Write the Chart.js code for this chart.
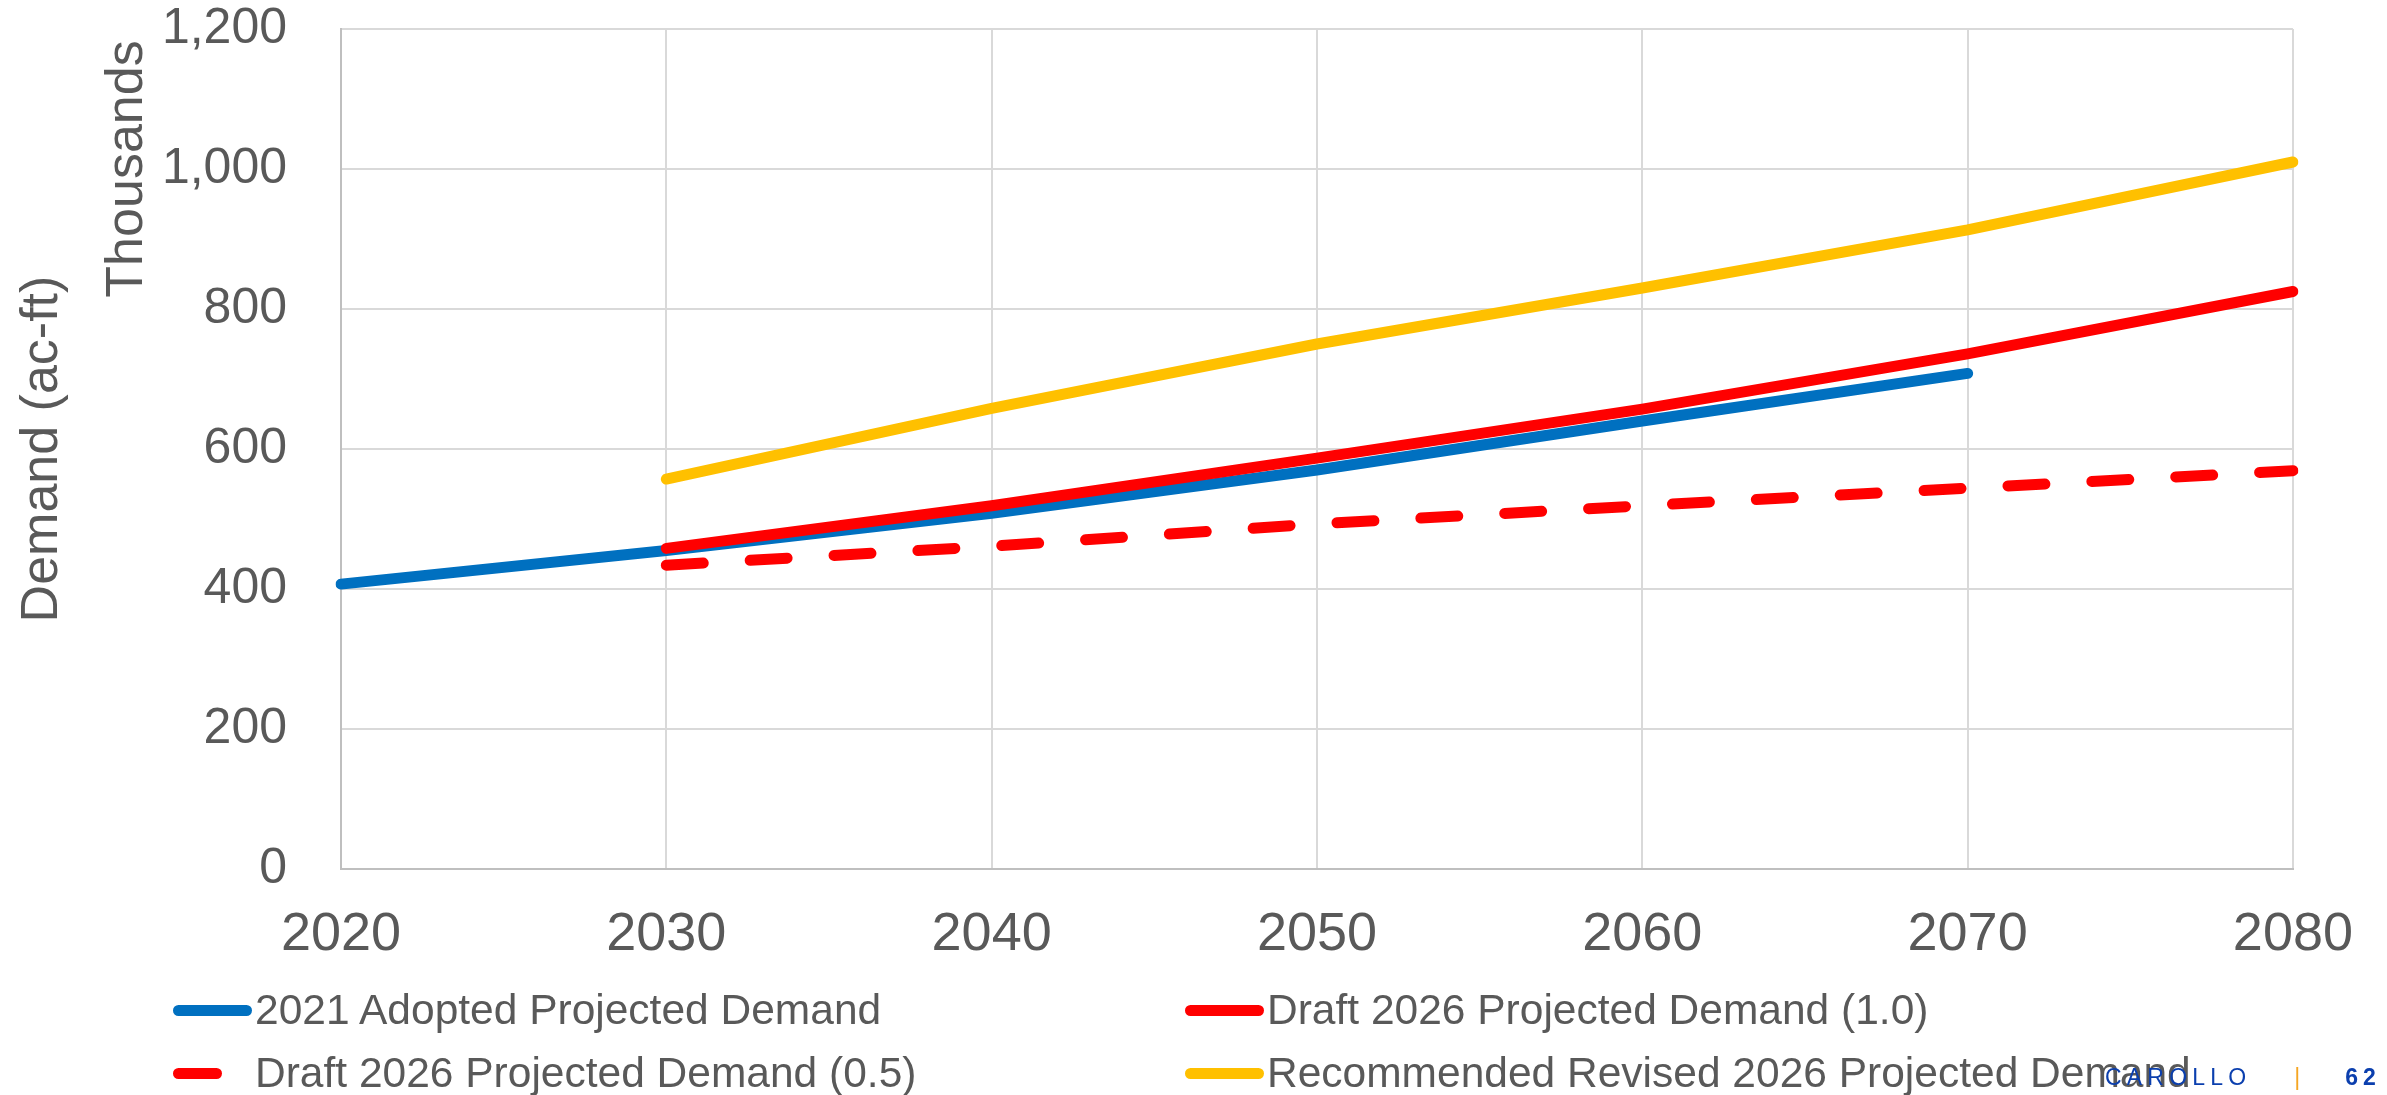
<!DOCTYPE html>
<html>
<head>
<meta charset="utf-8">
<script src="https://cdn.jsdelivr.net/npm/chart.js@4.4.1/dist/chart.umd.min.js"></script>
<style>
  body { margin: 0; background: #fff; }
  #wrap { position: relative; width: 2387px; height: 1095px; overflow: hidden; font-family: "Liberation Sans", Arial, sans-serif; }
  #demandChart { position: absolute; left: 0; top: 0; }
  .leg { position: absolute; display: flex; align-items: center; height: 50px; font-size: 42.5px; color: #595959; white-space: nowrap; }
  .swatch { height: 11px; border-radius: 6px; margin-right: 3px; }
  #footer { position: absolute; left: 2105px; top: 1062px; height: 30px; display: flex; align-items: center; font-size: 23px; color: #0b3fae; }
</style>
</head>
<body>
<div id="wrap">
  <canvas id="demandChart" width="2387" height="1095"></canvas>

  <div class="leg" style="left:173px; top:985px;"><div class="swatch" style="width:79px; background:#0070c0;"></div>2021 Adopted Projected Demand</div>
  <div class="leg" style="left:1185px; top:985px;"><div class="swatch" style="width:79px; background:#ff0000;"></div>Draft 2026 Projected Demand (1.0)</div>
  <div class="leg" style="left:173px; top:1048px;"><div class="swatch" style="width:49px; background:#ff0000; margin-right:33px;"></div>Draft 2026 Projected Demand (0.5)</div>
  <div class="leg" style="left:1185px; top:1048px;"><div class="swatch" style="width:79px; background:#ffc000;"></div>Recommended Revised 2026 Projected Demand</div>

  <div id="footer">
    <span style="letter-spacing:5.2px;">CAROLLO</span>
    <span style="color:#f5a623; margin-left:43px;">|</span>
    <span style="font-weight:bold; letter-spacing:5px; margin-left:45px;">62</span>
  </div>
</div>

<script>
// values, in thousands of ac-ft
const years = ["2020", "2030", "2040", "2050", "2060", "2070", "2080"];
const adopted2021 = [407, 455, 508, 570, 640, 708, null];
const draft2026 = [null, 458, 519, 587, 657, 736, 825];
const draft2026Half = [null, 434, 461, 493, 519, 544, 569];
const revised2026 = [null, 557, 658, 750, 830, 913, 1010];

const yTicks = [0, 200, 400, 600, 800, 1000, 1200];

const fontFamily = "'Liberation Sans', Arial, sans-serif";

// axis title + the Excel style "Thousands" units label, both rotated
const axisTitles = {
  id: "axisTitles",
  afterDraw(chart) {
    const c = chart.ctx;
    const mid = (chart.chartArea.top + chart.chartArea.bottom) / 2;
    c.save();
    c.font = "52px " + fontFamily;
    c.fillStyle = "#595959";
    c.textAlign = "center";
    c.textBaseline = "alphabetic";

    c.save();
    c.translate(57, mid);
    c.rotate(-Math.PI / 2);
    c.fillText("Demand (ac-ft)", 0, 0);
    c.restore();

    c.translate(142, 169);
    c.rotate(-Math.PI / 2);
    c.fillText("Thousands", 0, 0);
    c.restore();
  },
};

function lineSet(label, data, color, order) {
  return {
    label: label,
    data: data,
    borderColor: color,
    backgroundColor: color,
    borderWidth: 11,
    borderCapStyle: "round",
    borderJoinStyle: "round",
    pointRadius: 0,
    tension: 0,
    spanGaps: false,
    order: order,
  };
}

let ctx = document.getElementById("demandChart").getContext("2d");

let halfSet = lineSet("Draft 2026 Projected Demand (0.5)", draft2026Half, "#ff0000", 2);
halfSet.borderDash = [37, 47];

config = {
  type: "line",
  data: {
    labels: years,
    datasets: [
      lineSet("2021 Adopted Projected Demand", adopted2021, "#0070c0", 4),
      lineSet("Draft 2026 Projected Demand (1.0)", draft2026, "#ff0000", 3),
      halfSet,
      lineSet("Recommended Revised 2026 Projected Demand", revised2026, "#ffc000", 1),
    ],
  },
  options: {
    responsive: false,
    animation: false,
    devicePixelRatio: 1,
    layout: {
      padding: { left: 0, top: 29, right: 82, bottom: 0 },
    },
    plugins: {
      legend: { display: false },
      tooltip: { enabled: false },
    },
    scales: {
      x: {
        offset: false,
        grid: { color: "#d9d9d9", lineWidth: 2, drawTicks: false },
        border: { color: "#bfbfbf", width: 2 },
        ticks: {
          color: "#595959",
          font: { family: fontFamily, size: 54 },
          padding: 34,
          maxRotation: 0,
        },
        afterFit: function (scale) {
          scale.height = 1095 - 869;
        },
      },
      y: {
        min: 0,
        max: 1200,
        grid: { color: "#d9d9d9", lineWidth: 2, drawTicks: false },
        border: { color: "#bfbfbf", width: 2 },
        afterBuildTicks: function (scale) {
          scale.ticks = yTicks.map((v) => ({ value: v }));
        },
        ticks: {
          color: "#595959",
          font: { family: fontFamily, size: 50 },
          padding: 54,
          callback: function (value) {
            return value.toLocaleString("en-US");
          },
        },
        afterFit: function (scale) {
          scale.width = 341;
          scale.paddingTop = 0;
          scale.paddingBottom = 0;
        },
      },
    },
  },
  plugins: [axisTitles],
};
new Chart(ctx, config);
</script>
</body>
</html>
